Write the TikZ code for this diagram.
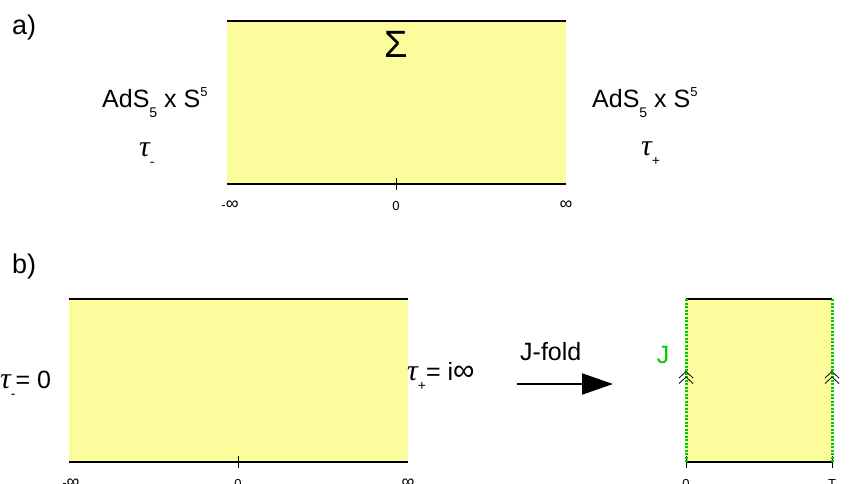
\documentclass[tikz,border=0pt]{standalone}
\usepackage{fontspec}
\setmainfont{Liberation Sans}
\newfontfamily\grk{Liberation Serif}
\usetikzlibrary{arrows.meta}
\definecolor{sheet}{HTML}{FCFC9C}
\definecolor{jgreen}{HTML}{00CC00}
\newcommand{\lo}[1]{\raisebox{-0.42em}{\fontsize{14}{14}\selectfont #1}}
\newcommand{\hi}[1]{\raisebox{0.42em}{\fontsize{13}{13}\selectfont #1}}
\newcommand{\tauc}{{\grk\itshape\fontsize{30}{30}\selectfont τ}}
\newcommand{\infc}[1]{{\fontsize{#1}{#1}\selectfont ∞}}
\begin{document}
\begin{tikzpicture}[x=1pt,y=-1pt,every node/.style={font=\fontsize{25}{30}\selectfont,inner sep=0pt},
  tick/.style={font=\fontsize{13}{15}\selectfont,anchor=base},
  edge/.style={line width=3pt,jgreen,dash pattern=on 2.2pt off 1.3pt},
  chev/.style={line width=0.8pt}]
  \useasboundingbox (0,0) rectangle (850,483);
  % a)
  \fill[sheet] (227,21) rectangle (566,184);
  \draw[line width=1.6pt] (227,21)--(566,21);
  \draw[line width=1.6pt] (227,184)--(566,184);
  \draw[line width=0.8pt] (396,178)--(396,190);
  \node[anchor=base west,font=\fontsize{27}{30}\selectfont] (la) at (12,34) {a)};
  \node (sig) at (396,44) {\fontsize{38}{40}\selectfont Σ};
  \node[anchor=base west] (adsl) at (102,107) {AdS\lo{5} x S\hi{5}};
  \node[anchor=base west] (adsr) at (592,107) {AdS\lo{5} x S\hi{5}};
  \node[anchor=base west] (taul) at (139,156) {\tauc\lo{-}};
  \node[anchor=base west] (taur) at (641,155) {\tauc\lo{+}};
  \node[tick] (am) at (230,209) {-\infc{18}};
  \node[tick] (a0) at (396,210) {0};
  \node[tick] (ap) at (566,209) {\infc{18}};
  % b)
  \fill[sheet] (69,299) rectangle (408,462);
  \draw[line width=1.6pt] (69,299)--(408,299);
  \draw[line width=1.6pt] (69,462)--(408,462);
  \draw[line width=0.8pt] (238,456)--(238,468);
  \node[anchor=base west,font=\fontsize{27}{30}\selectfont] (lb) at (12,273) {b)};
  \node[anchor=base west] (tb0) at (0,388) {\tauc\lo{-}= 0};
  \node[anchor=base west] (tbi) at (407,380) {\tauc\lo{+}= i\infc{30}};
  \node[tick] (bm) at (71,487) {-\infc{18}};
  \node[tick] (b0) at (238,488) {0};
  \node[tick] (bp) at (408,487) {\infc{18}};
  \node[anchor=base west] (fold) at (520,360) {J-fold};
  \coordinate (f1) at (517,384);
  \coordinate (f2) at (613,384);
  \draw[line width=2pt,-{Triangle[length=31pt,width=21pt]}] (f1)--(f2);
  \fill[sheet] (686,299) rectangle (832,462);
  \draw[line width=1.6pt] (686,299)--(832,299);
  \draw[line width=1.6pt] (686,462)--(832,462);
  \draw[line width=0.8pt] (686,456)--(686,468);
  \draw[line width=0.8pt] (832,456)--(832,468);
  \draw[edge] (686,299)--(686,462);
  \draw[edge] (832,299)--(832,462);
  \foreach \x in {686,832}{
    \draw[chev] (\x-7,378)--(\x,371.5)--(\x+7,378);
    \draw[chev] (\x-7,383.5)--(\x,377)--(\x+7,383.5);
  }
  \node[text=jgreen] (jl) at (663,355) {J};
  \node[text=jgreen] (jr) at (856,355) {J};
  \node[tick] (c0) at (686,488) {0};
  \node[tick] (cT) at (832,488) {T};
\end{tikzpicture}
\end{document}
